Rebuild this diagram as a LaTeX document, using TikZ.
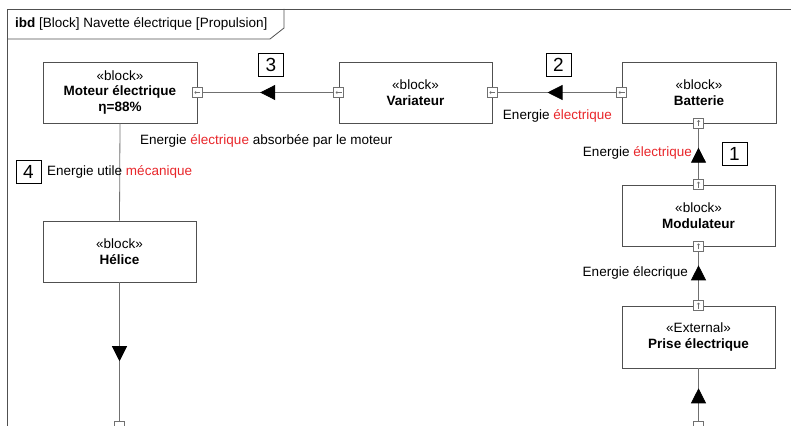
\documentclass[tikz,border=0pt]{standalone}
\usepackage{fontspec}
\setmainfont{Liberation Sans}
\usetikzlibrary{arrows.meta,decorations.markings}
\definecolor{ered}{HTML}{E8262A}
\definecolor{lgray}{HTML}{707070}
\definecolor{bgray}{HTML}{505050}
\begin{document}
\begin{tikzpicture}[x=1pt,y=-1pt,
  font=\fontsize{13.5}{15.5}\selectfont,
  block/.style={draw=bgray, line width=0.8pt, rectangle, minimum width=153pt, minimum height=61pt, align=center, inner sep=0pt},
  portL/.style={draw=lgray, fill=white, line width=0.6pt, rectangle, minimum size=10pt, inner sep=0pt,
    path picture={\draw[lgray, line width=0.4pt, -{Straight Barb[length=1.5pt,width=3pt]}] ([xshift=3pt]path picture bounding box.center) -- ([xshift=-3pt]path picture bounding box.center);}},
  portU/.style={draw=lgray, fill=white, line width=0.6pt, rectangle, minimum size=10pt, inner sep=0pt,
    path picture={\draw[lgray, line width=0.4pt, -{Straight Barb[length=1.5pt,width=3pt]}] ([yshift=-3pt]path picture bounding box.center) -- ([yshift=3pt]path picture bounding box.center);}},
  portB/.style={draw=lgray, fill=white, line width=0.6pt, rectangle, minimum size=10pt, inner sep=0pt},
  conn/.style={draw=lgray, line width=0.8pt},
  midarrow/.style={postaction={decorate}, decoration={markings, mark=at position #1 with {\arrow{Triangle[length=15pt,width=15pt,color=black]}}}},
  numbox/.style={draw=black, line width=0.6pt, minimum width=25pt, minimum height=23pt, inner sep=0pt, font=\fontsize{19}{19}\selectfont},
  lbl/.style={inner sep=0pt, font=\fontsize{13.5}{15}\selectfont}
]
\useasboundingbox (0,0) rectangle (791,425);
\clip (0,0) rectangle (791,425);

% frame
\draw[bgray, line width=0.8pt] (7,430) -- (7,9) -- (795,9);
\draw[bgray, line width=0.8pt] (7,39) -- (270,39) -- (284,28) -- (284,9);
\node[anchor=west, inner sep=0pt] (title) at (15,24) {\textbf{ibd} [Block] Navette électrique [Propulsion]};

% blocks
\node[block, minimum width=154pt] (mot) at (120,92.5) {«block»\\\textbf{Moteur électrique}\\\textbf{η=88\%}};
\node[block] (var) at (415.5,92.5) {«block»\\\textbf{Variateur}};
\node[block, minimum width=154pt] (bat) at (699,92.5) {«block»\\\textbf{Batterie}};
\node[block] (hel) at (119.5,251.5) {«block»\\\textbf{Hélice}};
\node[block] (mod) at (698.5,215.5) {«block»\\\textbf{Modulateur}};
\node[block, minimum height=62pt] (pri) at (698.5,337) {«External»\\\textbf{Prise électrique}};

% ports
\node[portL] (pmot) at (mot.east) {};
\node[portL] (pvarL) at (var.west) {};
\node[portL] (pvarR) at (var.east) {};
\node[portL] (pbat) at (bat.west) {};
\node[portU] (pbatB) at (698.5,123) {};
\node[portU] (pmodT) at (mod.north) {};
\node[portU] (pmodB) at (mod.south) {};
\node[portU] (ppriT) at (pri.north) {};
\node[portB] (phelX) at (119.5,426) {};
\node[portB] (ppriX) at (698.5,426) {};

% connectors
\draw[conn, midarrow=0.56] (pvarL.west) -- (pmot.east);
\draw[conn, midarrow=0.58] (pbat.west) -- (pvarR.east);
\draw[conn, midarrow=0.62] (pmodT.north) -- (pbatB.south);
\draw[conn, midarrow=0.72] (ppriT.north) -- (pmodB.south);
\draw[conn, midarrow=0.62] (ppriX.north) -- (pri.south);
\draw[conn] (mot.south) -- (hel.north);
\draw[conn, midarrow=0.57] (hel.south) -- (phelX.north);

% number boxes
\node[numbox] (n3) at (271,64.5) {3};
\node[numbox] (n2) at (558.5,64.5) {2};
\node[numbox] (n1) at (734.5,154) {1};
\node[numbox] (n4) at (28.5,172) {4};

% labels
\node[lbl, anchor=west] (t3) at (140,141) {Energie \textcolor{ered}{électrique} absorbée par le moteur};
\node[lbl, anchor=east] (t2) at (612,116) {Energie \textcolor{ered}{électrique}};
\node[lbl, anchor=east] (t1) at (692,153) {Energie \textcolor{ered}{électrique}};
\node[lbl, anchor=west] (t4) at (47,172) {Energie utile \textcolor{ered}{mécanique}};
\node[lbl, anchor=east] (t0) at (688,273) {Energie élecrique};
\end{tikzpicture}
\end{document}
